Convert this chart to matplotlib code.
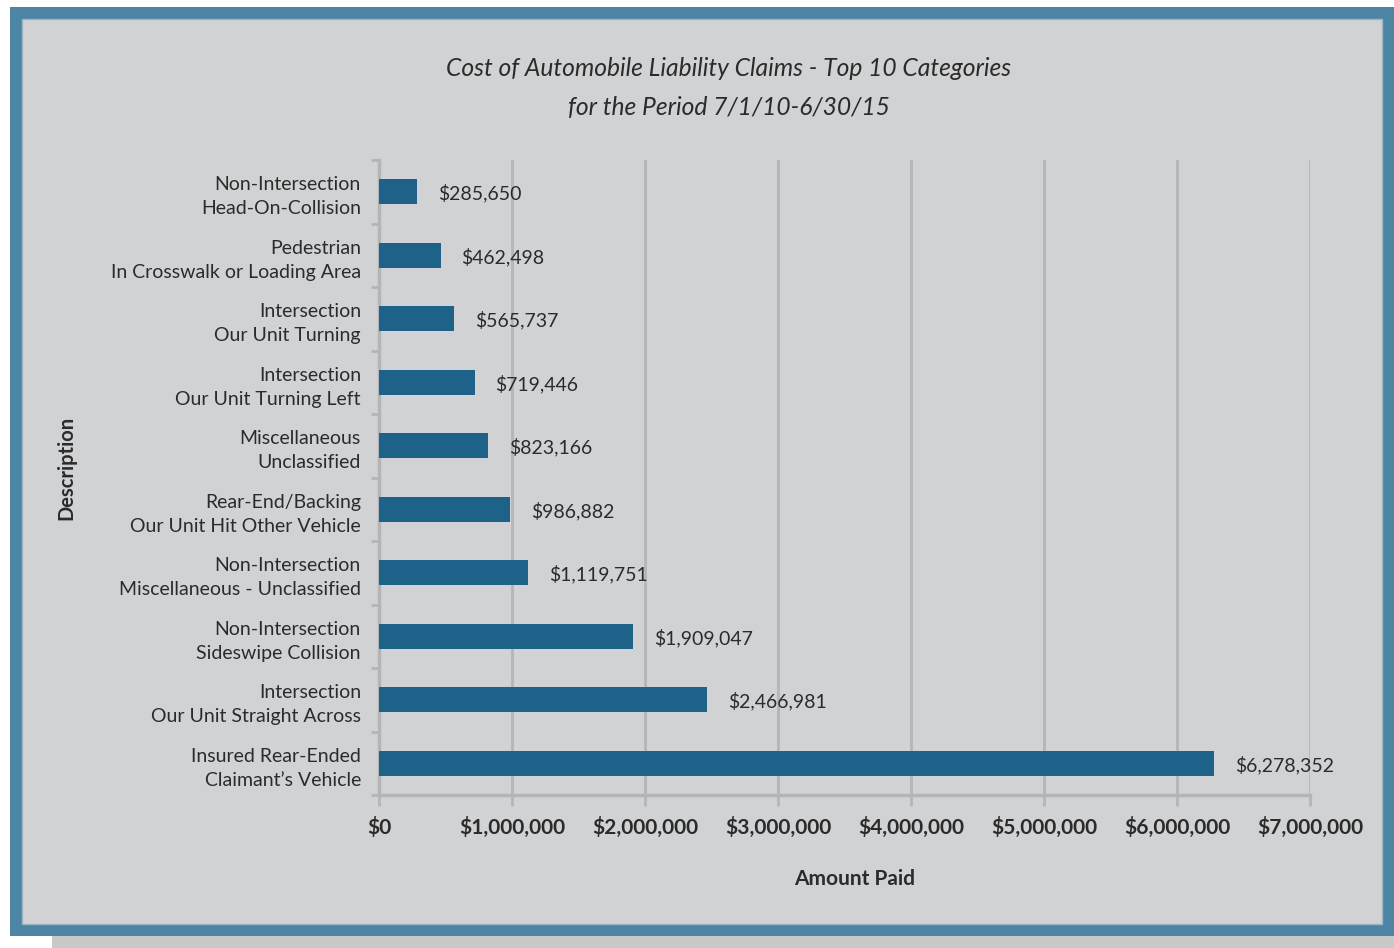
import matplotlib.pyplot as plt
from matplotlib.patches import Rectangle
import numpy as np

# top-down order as listed in the chart
categories = [
    "Non-Intersection\nHead-On-Collision",
    "Pedestrian\nIn Crosswalk or Loading Area",
    "Intersection\nOur Unit Turning",
    "Intersection\nOur Unit Turning Left",
    "Miscellaneous\nUnclassified",
    "Rear-End/Backing\nOur Unit Hit Other Vehicle",
    "Non-Intersection\nMiscellaneous - Unclassified",
    "Non-Intersection\nSideswipe Collision",
    "Intersection\nOur Unit Straight Across",
    "Insured Rear-Ended\nClaimant\u2019s Vehicle",
]
amounts = [285650, 462498, 565737, 719446, 823166, 986882,
           1119751, 1909047, 2466981, 6278352]
xticks = [0, 1000000, 2000000, 3000000, 4000000, 5000000, 6000000, 7000000]

plt.rcParams['font.family'] = ['Lato', 'DejaVu Sans']

bg = '#d1d2d4'
frame = '#4d86a5'
grid = '#b4b5b7'
bar_col = '#1f6289'
txt = '#2b2b2b'

fig = plt.figure(figsize=(13.94, 9.48), dpi=100)
fig.patch.set_facecolor('white')

# framed panel with a soft drop strip underneath
W, H = 1394.0, 948.0
fig.patches.append(Rectangle((52 / W, 0), 1 - 52 / W, 12 / H, transform=fig.transFigure,
                             facecolor='#c8c8c9', edgecolor='none', zorder=-3))
fig.patches.append(Rectangle((10 / W, 1 - 936 / H), 1 - 10 / W, (936 - 7) / H,
                             transform=fig.transFigure, facecolor=frame,
                             edgecolor='none', zorder=-2))
fig.patches.append(Rectangle((22 / W, 1 - 924 / H), (1382 - 22) / W, (924 - 19) / H,
                             transform=fig.transFigure, facecolor=bg,
                             edgecolor='#9fb5c2', linewidth=1, zorder=-1))

ax = fig.add_axes([379 / W, 1 - 795 / H, (1310 - 379) / W, (795 - 160) / H])
ax.set_zorder(2)
ax.set_facecolor(bg)

y = np.arange(len(categories))
ax.barh(y, amounts, height=0.4, color=bar_col, zorder=3)
ax.set_ylim(len(categories) - 0.5, -0.5)
ax.set_xlim(0, 7000000)

for yi, v in zip(y, amounts):
    ax.annotate('${:,}'.format(v), (v, yi), xytext=(15, -1), textcoords='offset points',
                ha='left', va='center', fontsize=14, color=txt)

ax.set_xticks(xticks)
ax.set_xticklabels(['${:,}'.format(t) for t in xticks], fontsize=15,
                   fontweight='bold', color=txt)
ax.set_yticks(y)
ax.set_yticklabels(categories, fontsize=14, color=txt, linespacing=1.5)
ax.set_yticks(np.arange(len(categories) + 1) - 0.5, minor=True)

ax.grid(axis='x', color=grid, linewidth=2, zorder=0)
ax.tick_params(axis='y', which='major', length=0, pad=13)
ax.tick_params(axis='y', which='minor', length=6, width=2, color=grid)
ax.tick_params(axis='x', length=8, width=2, color=grid, pad=8)

for s in ['top', 'right']:
    ax.spines[s].set_visible(False)
for s in ['left', 'bottom']:
    ax.spines[s].set_color(grid)
    ax.spines[s].set_linewidth(2.5)

fig.text(855 / W, 1 - 879 / H, 'Amount Paid', ha='center', va='center',
         fontsize=15, fontweight='bold', color=txt)
fig.text(66 / W, 1 - 468 / H, 'Description', rotation=90, ha='center', va='center',
         fontsize=14.5, fontweight='bold', color=txt)

fig.text(729 / W, 1 - 88 / H,
         'Cost of Automobile Liability Claims - Top 10 Categories\nfor the Period 7/1/10-6/30/15',
         ha='center', va='center', fontsize=17.7, style='italic', color=txt, linespacing=1.8)

fig.savefig('out.png', dpi=100, facecolor=fig.get_facecolor())
